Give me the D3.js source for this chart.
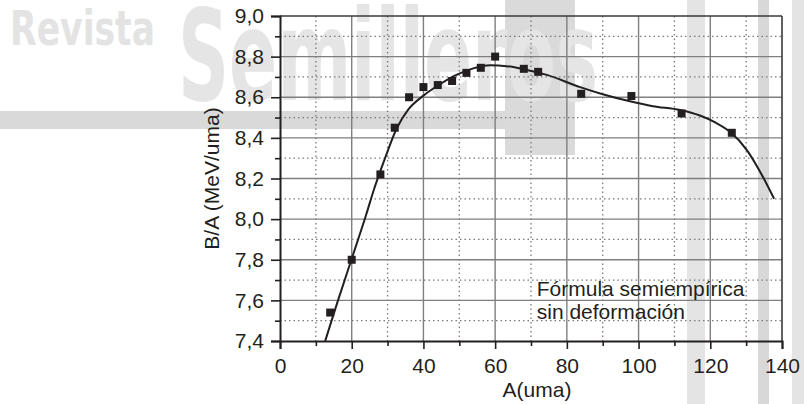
<!DOCTYPE html>
<html>
<head>
<meta charset="utf-8">
<script src="https://cdn.jsdelivr.net/npm/d3@7"></script>
<style>
  html, body { margin: 0; padding: 0; background: #ffffff; }
  svg { display: block; }
  text { font-family: "Liberation Sans", Arial, sans-serif; }
</style>
</head>
<body>
<div id="chart"></div>
<script>
// ---- data ----
const pointA  = [14, 20, 28, 32, 36, 40, 44, 48, 52, 56, 60, 68, 72, 84, 98, 112, 126];
const pointBA = [7.54, 7.80, 8.22, 8.45, 8.60, 8.65, 8.66, 8.68, 8.72, 8.745, 8.80, 8.74, 8.725, 8.617, 8.606, 8.52, 8.425];

const curveA  = [12.6, 16, 20, 24, 26, 29.3, 32.5, 35.8, 40, 44.6, 49.2, 53.9, 58.6, 63.2, 67.9, 74.4, 83.7, 90, 97.6, 104, 111.6, 117.1, 121.5, 125.5, 130.2, 134, 137.8];
const curveBA = [7.40, 7.59, 7.805, 8.02, 8.135, 8.30, 8.445, 8.54, 8.608, 8.664, 8.71, 8.742, 8.757, 8.753, 8.738, 8.71, 8.65, 8.615, 8.58, 8.556, 8.537, 8.51, 8.475, 8.43, 8.34, 8.23, 8.10];

const xTickValues = [0, 20, 40, 60, 80, 100, 120, 140];
const yTickValues = [7.4, 7.6, 7.8, 8.0, 8.2, 8.4, 8.6, 8.8, 9.0];
const xMinorValues = [10, 30, 50, 70, 90, 110, 130];
const yMinorValues = [7.5, 7.7, 7.9, 8.1, 8.3, 8.5, 8.7, 8.9];

const xLabel = "A(uma)";
const yLabel = "B/A (MeV/uma)";
const noteLines = ["Fórmula semiempírica", "sin deformación"];
const watermarkSmall = "Revista";
const watermarkBig = "Semilleros";

// ---- layout ----
const W = 804, H = 404;
const margin = { left: 280, top: 16, right: 22, bottom: 63 };
const iw = W - margin.left - margin.right;   // 502
const ih = H - margin.top - margin.bottom;   // 325
const ink = "#231f20";
const fmt = d => d3.format(".1f")(d).replace(".", ",");

const svg = d3.select("#chart").append("svg").attr("width", W).attr("height", H);

// ---- watermark / background decorations ----
const wmFont = "'DejaVu Sans Condensed', 'Liberation Sans Narrow', 'Liberation Sans', Arial, sans-serif";
const bg = svg.append("g");
bg.append("rect").attr("x", 0).attr("y", 111).attr("width", 505).attr("height", 18).attr("fill", "#d9d9d9");
bg.append("rect").attr("x", 505).attr("y", 0).attr("width", 70).attr("height", 155).attr("fill", "#dadada");
bg.append("rect").attr("x", 687).attr("y", 0).attr("width", 18).attr("height", H).attr("fill", "#e4e4e4");
bg.append("rect").attr("x", 758).attr("y", 0).attr("width", 11).attr("height", H).attr("fill", "#d8d8d8");
bg.append("rect").attr("x", 792).attr("y", 0).attr("width", 12).attr("height", H).attr("fill", "#e4e4e4");
bg.append("text").text(watermarkSmall)
  .attr("x", 10).attr("y", 45)
  .attr("font-size", 48).attr("font-weight", "bold")
  .style("font-family", wmFont)
  .attr("textLength", 145).attr("lengthAdjust", "spacingAndGlyphs")
  .attr("fill", "#e3e3e3");
bg.append("text").text(watermarkBig)
  .attr("x", 178).attr("y", 100)
  .attr("font-size", 127).attr("font-weight", "bold")
  .style("font-family", wmFont)
  .attr("textLength", 420).attr("lengthAdjust", "spacingAndGlyphs")
  .attr("fill", "#e5e5e5");

// ---- scales ----
const x = d3.scaleLinear().domain([0, 140]).range([0, iw]);
const y = d3.scaleLinear().domain([7.4, 9.0]).range([ih, 0]);

const g = svg.append("g").attr("transform", `translate(${margin.left},${margin.top})`);

// minor (dotted) grid
g.append("g").selectAll("line").data(xMinorValues).join("line")
  .attr("x1", d => x(d)).attr("x2", d => x(d)).attr("y1", 0).attr("y2", ih)
  .attr("stroke", "#7a7a7a").attr("stroke-width", 1.3).attr("stroke-dasharray", "1.5,3");
g.append("g").selectAll("line").data(yMinorValues).join("line")
  .attr("x1", 0).attr("x2", iw).attr("y1", d => y(d)).attr("y2", d => y(d))
  .attr("stroke", "#7a7a7a").attr("stroke-width", 1.3).attr("stroke-dasharray", "1.5,3");

// major (solid) grid
g.append("g").selectAll("line").data(xTickValues.slice(1, -1)).join("line")
  .attr("x1", d => x(d)).attr("x2", d => x(d)).attr("y1", 0).attr("y2", ih)
  .attr("stroke", "#7f7f7f").attr("stroke-width", 1.4);
g.append("g").selectAll("line").data(yTickValues.slice(1, -1)).join("line")
  .attr("x1", 0).attr("x2", iw).attr("y1", d => y(d)).attr("y2", d => y(d))
  .attr("stroke", "#7f7f7f").attr("stroke-width", 1.4);

// frame top/right
g.append("line").attr("x1", 0).attr("x2", iw).attr("y1", 0).attr("y2", 0).attr("stroke", "#3a3a3a").attr("stroke-width", 1.6);
g.append("line").attr("x1", iw).attr("x2", iw).attr("y1", 0).attr("y2", ih).attr("stroke", "#3a3a3a").attr("stroke-width", 1.6);

// axes
const xAxis = g.append("g").attr("transform", `translate(0,${ih})`)
  .call(d3.axisBottom(x).tickValues(xTickValues).tickSize(8).tickPadding(9).tickFormat(d3.format("d")));
const xMinor = g.append("g").attr("transform", `translate(0,${ih})`)
  .call(d3.axisBottom(x).tickValues(xMinorValues).tickSize(5).tickFormat(""));
const yAxis = g.append("g")
  .call(d3.axisLeft(y).tickValues(yTickValues).tickSize(9).tickPadding(7).tickFormat(fmt));
const yMinor = g.append("g")
  .call(d3.axisLeft(y).tickValues(yMinorValues).tickSize(5).tickFormat(""));

[xAxis, xMinor, yAxis, yMinor].forEach(a => {
  a.select(".domain").attr("stroke", ink).attr("stroke-width", 2);
  a.selectAll(".tick line").attr("stroke", ink).attr("stroke-width", 1.6);
  a.selectAll(".tick text").attr("fill", ink).attr("font-size", 21)
    .style("font-family", "'Liberation Sans', Arial, sans-serif");
});
xMinor.select(".domain").remove();
yMinor.select(".domain").remove();

// curve
const line = d3.line().x(d => x(d[0])).y(d => y(d[1])).curve(d3.curveMonotoneX);
g.append("path").datum(curveA.map((a, i) => [a, curveBA[i]]))
  .attr("d", line).attr("fill", "none").attr("stroke", ink).attr("stroke-width", 2);

// points
const s = 8;
g.append("g").selectAll("rect").data(pointA.map((a, i) => [a, pointBA[i]])).join("rect")
  .attr("x", d => x(d[0]) - s / 2).attr("y", d => y(d[1]) - s / 2)
  .attr("width", s).attr("height", s).attr("fill", ink);

// annotation
g.append("g").selectAll("text").data(noteLines).join("text")
  .attr("x", x(71.6)).attr("y", (d, i) => y(7.62) + i * 23)
  .attr("font-size", 21).attr("fill", ink).text(d => d);

// axis labels
svg.append("text").text(xLabel)
  .attr("x", 537).attr("y", 397).attr("text-anchor", "middle")
  .attr("font-size", 21).attr("fill", ink);
svg.append("text").text(yLabel)
  .attr("transform", `translate(219,${margin.top + ih / 2}) rotate(-90)`)
  .attr("text-anchor", "middle").attr("font-size", 21).attr("fill", ink);
</script>
</body>
</html>
